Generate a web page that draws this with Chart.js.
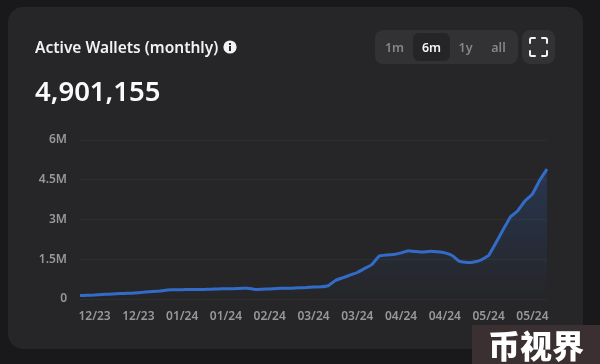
<!DOCTYPE html>
<html>
<head>
<meta charset="utf-8">
<script src="https://cdn.jsdelivr.net/npm/chart.js@4"></script>
<style>
  html, body { margin: 0; padding: 0; width: 600px; height: 364px; overflow: hidden; background: #19191b; font-family: "Noto Sans", sans-serif; }
  #card { position: absolute; left: 8px; top: 7px; width: 575px; height: 342px; border-radius: 15px; background: #262628; }
  #chart { position: absolute; left: 0; top: 0; }
  .abs { position: absolute; white-space: nowrap; }
  #title { left: 35px; top: 37px; font-size: 15.5px; font-weight: 600; line-height: 21px; color: #f2f2f2; }
  #info { left: 223px; top: 40px; width: 14px; height: 14px; }
  #total { left: 35px; top: 71px; font-size: 27.5px; font-weight: 600; line-height: 40px; color: #fafafa; }
  #range { left: 375px; top: 30px; width: 143px; height: 34px; border-radius: 8px; background: #323235; }
  .btn { top: 33px; width: 37px; height: 28px; border-radius: 6px; font-size: 12.5px; font-weight: 600; line-height: 29px; text-align: center; color: #85858a; }
  .btn.on { background: #252527; color: #f5f5f5; }
  #full { left: 522px; top: 30px; width: 33px; height: 34px; border-radius: 8px; background: #323235; }
  #mark { left: 472px; top: 325px; width: 128px; height: 39px; background: #3a3032; color: #fff; font-family: "Noto Sans CJK SC"; font-weight: 900; font-size: 32px; line-height: 39px; text-align: center; }
</style>
</head>
<body>
<div id="card"></div>
<canvas id="chart" width="600" height="364"></canvas>
<div class="abs" id="title">Active Wallets (monthly)</div>
<svg class="abs" id="info" viewBox="0 0 14 14"><circle cx="7" cy="7" r="6.6" fill="#f2f2f2"/><rect x="6" y="6" width="2" height="5" fill="#262628"/><rect x="6" y="3" width="2" height="2" fill="#262628"/></svg>
<div class="abs" id="total">4,901,155</div>
<div class="abs" id="range"></div>
<div class="abs btn" style="left:376px">1m</div>
<div class="abs btn on" style="left:413px">6m</div>
<div class="abs btn" style="left:447px">1y</div>
<div class="abs btn" style="left:480px">all</div>
<div class="abs" id="full">
  <svg width="33" height="34" viewBox="0 0 33 34" fill="none" stroke="#f2f2f2" stroke-width="2" stroke-linecap="round">
    <path d="M8 13V9.5A1.5 1.5 0 0 1 9.5 8H13M20 8H23.5A1.5 1.5 0 0 1 25 9.5V13M25 21V24.5A1.5 1.5 0 0 1 23.5 26H20M13 26H9.5A1.5 1.5 0 0 1 8 24.5V21"/>
  </svg>
</div>
<div class="abs" id="mark">币视界</div>

<script>
const labels = [
  '12/23','12/23','12/23','12/23','12/23','12/23','12/23','12/23','12/23','12/23','12/23','12/23','01/24',
  '01/24','01/24','01/24','01/24','01/24','01/24','01/24','01/24','01/24','01/24','02/24','02/24','02/24',
  '02/24','02/24','02/24','02/24','02/24','03/24','03/24','03/24','03/24','03/24','03/24','03/24','03/24',
  '03/24','03/24','03/24','04/24','04/24','04/24','04/24','04/24','04/24','04/24','04/24','04/24','04/24',
  '04/24','05/24','05/24','05/24','05/24','05/24','05/24','05/24','05/24','05/24','05/24','05/24','05/24'
];
const wallets = [
  130000,140000,150000,170000,180000,200000,210000,220000,240000,260000,280000,300000,340000,
  350000,350000,360000,360000,360000,370000,380000,390000,390000,400000,410000,360000,370000,
  380000,400000,410000,410000,420000,430000,450000,460000,500000,700000,800000,900000,1000000,
  1150000,1300000,1620000,1660000,1680000,1740000,1820000,1790000,1770000,1800000,1780000,1740000,1640000,
  1420000,1380000,1400000,1480000,1640000,2120000,2620000,3100000,3330000,3710000,3960000,4480000,4901155
];
const yTicks = [0, 1500000, 3000000, 4500000, 6000000];
const yTickLabels = ['0', '1.5M', '3M', '4.5M', '6M'];

const tickFont = { family: '"Noto Sans", sans-serif', size: 12, weight: '600' };

new Chart(document.getElementById('chart'), {
  type: 'line',
  data: {
    labels: labels,
    datasets: [{
      data: wallets,
      borderColor: '#336cc8',
      borderWidth: 3,
      pointRadius: 0,
      tension: 0.05,
      fill: true,
      backgroundColor: (ctx) => {
        const area = ctx.chart.chartArea;
        if (!area) return 'transparent';
        const g = ctx.chart.ctx.createLinearGradient(0, area.top, 0, area.bottom);
        g.addColorStop(0, 'rgba(47,105,201,0.30)');
        g.addColorStop(1, 'rgba(47,105,201,0)');
        return g;
      }
    }]
  },
  options: {
    responsive: false,
    animation: false,
    layout: { padding: { left: 0, right: 53, top: 140, bottom: 40 } },
    plugins: { legend: { display: false }, tooltip: { enabled: false } },
    scales: {
      x: {
        offset: false,
        grid: { display: false },
        border: { display: false },
        afterFit: (s) => { s.height = 25; },
        ticks: {
          autoSkip: false,
          maxRotation: 0,
          color: '#98989c',
          font: tickFont,
          padding: 2,
          callback: function (v, i) { return (i - 2) % 6 === 0 ? labels[i] : ''; }
        }
      },
      y: {
        min: 0,
        max: 6000000,
        afterBuildTicks: (s) => { s.ticks = yTicks.map((v) => ({ value: v })); },
        afterFit: (s) => { s.width = 80; },
        grid: { color: '#2e2e30', lineWidth: 1, drawTicks: false },
        border: { display: false },
        ticks: {
          color: '#98989c',
          font: tickFont,
          padding: 13,
          callback: (v) => yTickLabels[yTicks.indexOf(v)]
        }
      }
    }
  }
});
</script>
</body>
</html>
